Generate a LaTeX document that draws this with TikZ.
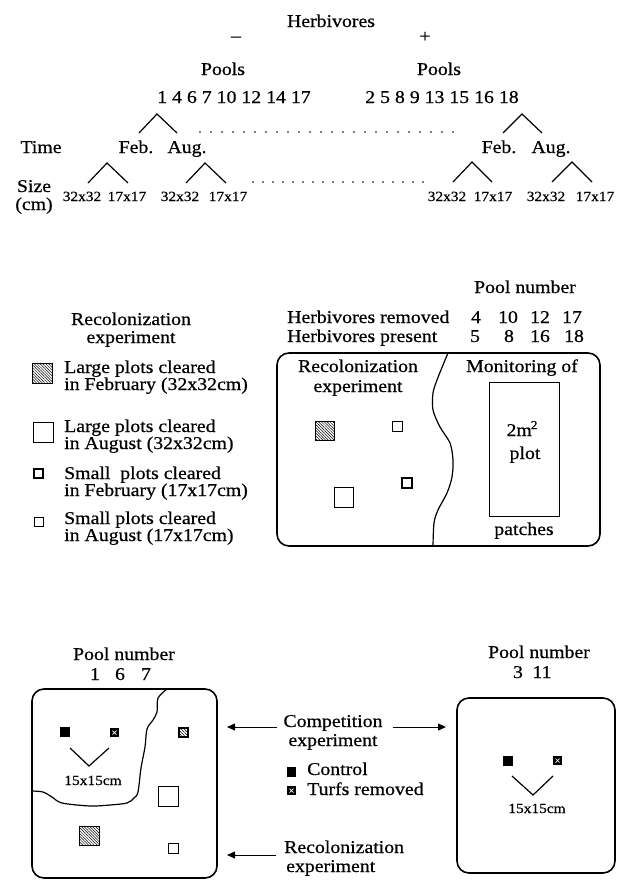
\documentclass[tikz,border=0pt]{standalone}
\usepackage{fontspec}
\setmainfont[FakeStretch=1.1,FakeBold=0.6]{Liberation Serif}
\usetikzlibrary{arrows.meta,patterns.meta}
\newcommand{\turfsq}[2]{\fill (#1,#2) rectangle ++(9,9); \draw[white,line width=0.7pt] (#1+2.5,#2+2.5) -- ++(4,4) (#1+2.5,#2+6.5) -- ++(4,-4);}
\begin{document}
\begin{tikzpicture}[x=1pt,y=-1pt,
  T/.style={font=\fontsize{18}{18}\selectfont, inner sep=0pt, anchor=base},
  TL/.style={T, anchor=base west},
  S/.style={font=\fontsize{14}{14}\selectfont, inner sep=0pt, anchor=base},
  caret/.style={line width=1.2pt},
  dotline/.style={line width=1.6pt, line cap=round, dash pattern=on 0pt off 11pt},
  frame/.style={line width=1.6pt, rounded corners=12pt},
  hatch/.style={draw, line width=0.9pt, pattern={Lines[angle=-45,distance=2pt,line width=0.5pt]}},
  plot/.style={draw, line width=0.8pt},
  plotthick/.style={draw, line width=1.4pt},
  arr/.style={line width=1pt, -{Triangle[length=8pt,width=7pt]}},
  divider/.style={line width=1.2pt}
]
\useasboundingbox (0,0) rectangle (626,881);

% ---------------- top tree ----------------
\node[T] (herb) at (331,27) {Herbivores};
\node[T,anchor=center] (minus) at (236,39) {–};
\node[T,anchor=center] (plus) at (425,37) {+};
\node[T] (poolsL) at (223,75) {Pools};
\node[T] (poolsR) at (439,75) {Pools};
\node[T] (numL) at (234,103) {1 4 6 7 10 12 14 17};
\node[T] (numR) at (442,103) {2 5 8 9 13 15 16 18};
\draw[caret] (139,133) -- (157,114) -- (177,133);
\draw[caret] (503,133) -- (522,114) -- (542,133);
\draw[dotline] (200,132) -- (464,132);
\node[T] (time) at (41,153) {Time};
\node[T] (febL) at (136,153) {Feb.};
\node[T] (augL) at (187,153) {Aug.};
\node[T] (febR) at (499,153) {Feb.};
\node[T] (augR) at (551,153) {Aug.};
\draw[caret] (88,183) -- (107,163) -- (128,183);
\draw[caret] (186,183) -- (205,163) -- (226,183);
\draw[caret] (453,182) -- (472,162) -- (492,182);
\draw[caret] (552,182) -- (572,162) -- (592,182);
\draw[dotline, dash pattern=on 0pt off 10pt] (253,182) -- (428,182);
\node[T] (size) at (34,192) {Size};
\node[T] (cm) at (34,210) {(cm)};
\node[S] (s1) at (82,201) {32x32};
\node[S] (s2) at (127,201) {17x17};
\node[S] (s3) at (180,201) {32x32};
\node[S] (s4) at (228,201) {17x17};
\node[S] (s5) at (447,201) {32x32};
\node[S] (s6) at (493,201) {17x17};
\node[S] (s7) at (546,201) {32x32};
\node[S] (s8) at (595,201) {17x17};

% ---------------- middle ----------------
\node[T] (pn1) at (525,293) {Pool number};
\node[TL] (hr) at (287,323) {Herbivores removed};
\node[T] (hr1) at (476,323) {4};
\node[T] (hr2) at (508,323) {10};
\node[T] (hr3) at (540,323) {12};
\node[T] (hr4) at (572,323) {17};
\node[TL] (hp) at (287,342) {Herbivores present};
\node[T] (hp1) at (475,342) {5};
\node[T] (hp2) at (509,342) {8};
\node[T] (hp3) at (540,342) {16};
\node[T] (hp4) at (574,342) {18};

\node[T] (lt1) at (131,325) {Recolonization};
\node[T] (lt2) at (131,343) {experiment};

\draw[hatch] (32,363) rectangle (52,383);
\node[TL] (l1a) at (64,373) {Large plots cleared};
\node[TL] (l1b) at (64,390) {in February (32x32cm)};
\draw[plot] (33,422) rectangle (53,442);
\node[TL] (l2a) at (64,432) {Large plots cleared};
\node[TL] (l2b) at (64,449) {in August (32x32cm)};
\draw[plotthick] (34,469) rectangle (43,478);
\node[TL] (l3a) at (64,479) {Small\ \ plots cleared};
\node[TL] (l3b) at (64,496) {in February (17x17cm)};
\draw[plot] (34,517) rectangle (43,526);
\node[TL] (l4a) at (64,524) {Small plots cleared};
\node[TL] (l4b) at (64,541) {in August (17x17cm)};

\draw[frame] (277,353) rectangle (600,546);
\draw[divider] plot[smooth] coordinates {(448,353) (443,365) (437,380) (433,393) (433,410) (440,427) (450,443) (453,460) (452,477) (447,493) (438,510) (434,523) (433,546)};
\node[T] (br1) at (358,372) {Recolonization};
\node[T] (br2) at (358,392) {experiment};
\node[T] (mon) at (522,372) {Monitoring of};
\draw[line width=0.8pt] (489,382) rectangle (559,516);
\node[T] (m2) at (522,436) {2m\kern-1pt\raisebox{7pt}{\fontsize{12}{12}\selectfont 2}};
\node[T] (plotlbl) at (525,459) {plot};
\node[T] (patch) at (524,535) {patches};
\draw[hatch] (315,421) rectangle (334,440);
\draw[plot] (392,421) rectangle (402,431);
\draw[plotthick] (402,478) rectangle (412,488);
\draw[plot] (334,487) rectangle (353,507);

% ---------------- bottom ----------------
\node[T] (pnL) at (124,660) {Pool number};
\node[T] (pL1) at (95,680) {1};
\node[T] (pL2) at (120,680) {6};
\node[T] (pL3) at (146,680) {7};
\node[T] (pnR) at (539,658) {Pool number};
\node[T] (pR1) at (518,678) {3};
\node[T] (pR2) at (542,678) {11};

\draw[frame] (32,689) rectangle (217,878);
\draw[divider] plot[smooth] coordinates {(167,689) (158,698) (157,712) (153,720) (147,729) (145,747) (141,768) (138,792) (134,798) (127,803) (110,805) (90,806) (62,803) (52,797) (43,792) (32,791)};
\fill (60,727) rectangle (70,737);
\turfsq{110}{728}
\draw[line width=1.5pt, pattern={Lines[angle=-45,distance=2.2pt,line width=0.5pt]}] (179,728) rectangle (188,737);
\draw[caret] (70,748) -- (89,766) -- (109,748);
\node[S] (vL) at (93,785) {15x15cm};
\draw[plot] (158,786) rectangle (178,806);
\draw[hatch] (79,826) rectangle (99,845);
\draw[plot] (168,843) rectangle (178,853);

\draw[frame] (457,698) rectangle (615,873);
\fill (503,756) rectangle (513,766);
\turfsq{553}{756}
\draw[caret] (512,776) -- (533,795) -- (553,776);
\node[S] (vR) at (537,813) {15x15cm};

\node[T] (comp1) at (333,727) {Competition};
\node[T] (comp2) at (333,746) {experiment};
\coordinate (tipL) at (227,727);
\coordinate (tipR) at (446,727);
\draw[arr] ([xshift=-6pt]comp1.base west) -- (tipL);
\draw[arr] ([xshift=10pt]comp1.base east) -- (tipR);

\fill (287,767) rectangle (296,777);
\node[TL] (ctrl) at (307,775) {Control};
\turfsq{287}{786}
\node[TL] (turf) at (307,795) {Turfs removed};

\node[TL] (rec1) at (284,853) {Recolonization};
\node[TL] (rec2) at (286,872) {experiment};
\coordinate (tipL2) at (227,855);
\draw[arr] ([shift={(-8pt,-2pt)}]rec1.base west) -- (tipL2);
\end{tikzpicture}
\end{document}
